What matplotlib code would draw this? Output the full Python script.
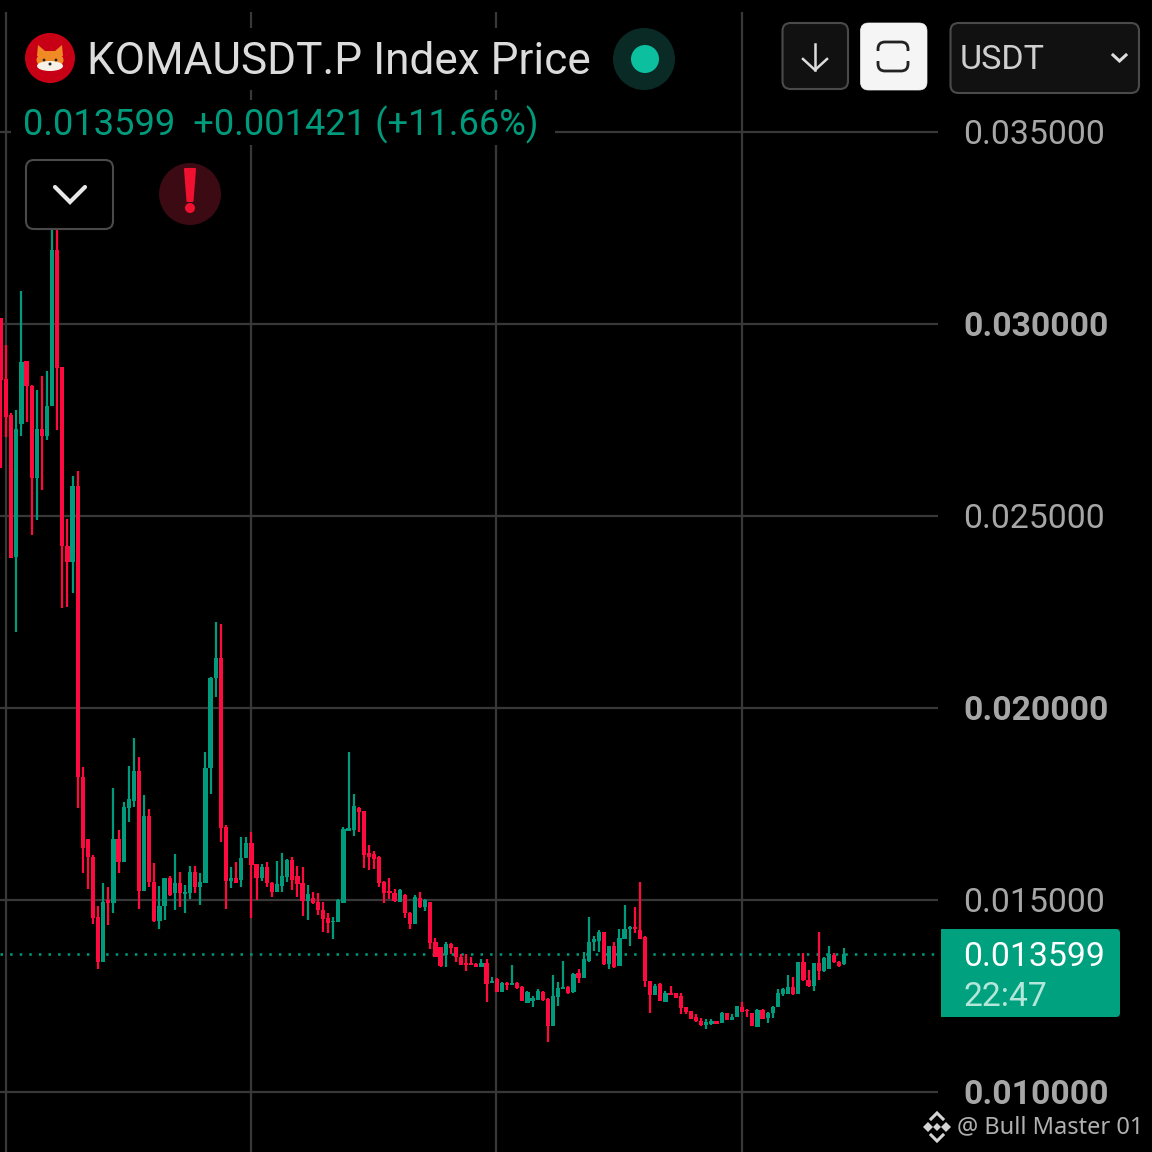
import matplotlib
matplotlib.use('Agg')
import matplotlib.pyplot as plt
from matplotlib.patches import Circle, FancyBboxPatch, Rectangle, Polygon, Ellipse

plt.rcParams['font.family'] = ['Roboto', 'DejaVu Sans']

# candle values
opens = [.03016,.02857,.02763,.02393,.0274,.02904,.02839,.02599,.02727,.02708,.02786,.03193,.02888,.02422,.0238,.02578,
         .0182,.01659,.01612,.01456,.01339,.015,.01492,.01659,.01599,.0174,.01758,.01836,.01523,.01719,.01547,.01445,
         .01484,.01557,.01518,.01544,.01516,.01518,.01573,.01534,.01544,.01844,.02078,.0213,.0169,.0155,.01557,.01552,
         .01609,.01648,.01594,.01557,.01586,.01544,.01521,.01537,.0156,.01604,.01563,.01544,.01497,.01505,.01495,.01474,
         .01453,.01443,.01443,.01492,.0168,.01682,.0174,.01732,.01622,.0162,.01612,.01547,.01523,.01518,.01495,.01513,
         .01466,.01438,.01505,.01482,.01495,.01391,.01378,.01357,.01385,.01378,.01352,.01336,.01336,.01333,.01326,.01336,
         .01284,.01294,.0126,.01284,.01279,.01284,.01273,.01232,.01237,.0124,.0126,.01242,.01172,.01247,.01268,.01273,
         .0126,.0131,.01297,.01341,.01391,.01393,.01417,.01333,.0138,.01328,.01398,.01425,.0143,.01422,.01404,.01289,
         .01253,.01281,.01234,.01258,.01258,.0125,.01221,.01211,.01195,.01185,.01174,.01177,.01185,.0118,.01206,.01188,
         .01195,.01221,.01214,.01206,.01169,.01214,.01193,.01206,.01221,.01255,.01255,.01273,.01255,.01339,.01292,.01276,
         .01336,.01315,.0132,.01357,.01339,.01333]
highs = [.03016,.02945,.02768,.02776,.03086,.02904,.02841,.02828,.02865,.02878,.03271,.03255,.02888,.02492,.02604,.02617,
         .01846,.01659,.01617,.01484,.01544,.01534,.01792,.01682,.01755,.01849,.01922,.01872,.01773,.01737,.01596,.01537,
         .01557,.01563,.0162,.01573,.01539,.01589,.01589,.0157,.01885,.02081,.02224,.02219,.01695,.01586,.01599,.01664,
         .01664,.01677,.01594,.01594,.01599,.01547,.01602,.01622,.01607,.01612,.01589,.01586,.01539,.01521,.01518,.01495,
         .01466,.01456,.01503,.0169,.01885,.01776,.01742,.01732,.01643,.01628,.01615,.0155,.01557,.01529,.01529,.01516,
         .01469,.01513,.01521,.01503,.01495,.01401,.01378,.01391,.01388,.01378,.01359,.01359,.01352,.01336,.01346,.01346,
         .013,.01297,.01287,.01287,.01331,.01287,.01276,.01263,.0125,.01268,.01263,.01245,.01305,.01287,.01341,.01276,
         .0131,.0132,.01365,.01456,.01406,.01422,.01417,.0138,.01391,.01425,.01487,.01432,.01482,.01547,.01406,.01289,
         .01281,.01284,.01263,.01276,.01258,.01258,.01221,.01211,.01203,.01193,.0119,.0119,.01185,.01208,.01206,.01203,
         .01224,.01234,.01216,.01206,.01216,.01216,.01208,.01224,.01268,.01271,.01305,.013,.01339,.01362,.01318,.01336,
         .01417,.01352,.0138,.01362,.01341,.01375]
lows = [.02625,.02706,.02391,.02198,.02708,.02745,.02451,.0249,.02568,.02698,.02786,.02724,.0226,.02263,.02299,.0174,
        .0157,.01529,.01438,.0132,.01339,.01435,.01466,.0157,.01599,.01703,.01742,.01477,.01523,.01534,.01443,.01425,
        .01448,.0151,.01474,.01482,.01466,.01503,.01518,.01487,.01544,.01776,.02029,.01651,.01477,.01531,.01544,.01534,
        .01609,.01453,.015,.0155,.01534,.01508,.01521,.01521,.01547,.01526,.01508,.01458,.01448,.0149,.01461,.01417,
        .01414,.01398,.01443,.01492,.0168,.01667,.01677,.01583,.01578,.01581,.01534,.01492,.01503,.01495,.01495,.01453,
        .01425,.01438,.01479,.01471,.01372,.01352,.01326,.01326,.01359,.01339,.01331,.01315,.01331,.01326,.01326,.01234,
        .01284,.0126,.0126,.01266,.01279,.01268,.01237,.01232,.01221,.0124,.01237,.0113,.01172,.01224,.01268,.01255,
        .01258,.01284,.01297,.01339,.01367,.01365,.01331,.0132,.01323,.01328,.01398,.0138,.01414,.01398,.01273,.01206,
        .01253,.01237,.01234,.01253,.01245,.01203,.01203,.0119,.01182,.01172,.01164,.01174,.01177,.0118,.01188,.01188,
        .01195,.01208,.01195,.01172,.01169,.0119,.0118,.01193,.01221,.0125,.01255,.01253,.01255,.01289,.01273,.01263,
        .01292,.01313,.0132,.01336,.01326,.01331]
closes = [.02854,.02758,.02391,.02727,.02901,.02839,.02599,.02727,.02708,.02786,.03193,.02885,.02422,.0238,.02578,.0182,
          .01635,.01612,.01453,.01339,.01495,.01492,.01659,.01599,.01742,.01763,.01836,.01523,.01719,.01547,.01445,.01484,
          .01557,.01513,.01544,.01518,.01521,.01573,.01534,.01547,.01844,.02078,.0213,.01688,.0155,.01557,.01544,.01609,
          .01648,.01591,.01557,.01586,.01544,.01521,.01542,.01563,.01604,.01552,.01542,.01497,.01516,.01492,.01474,.01451,
          .0144,.01445,.015,.01685,.01688,.01745,.01729,.01617,.01612,.01607,.01544,.01518,.01518,.01497,.01526,.01466,
          .01438,.01508,.01482,.015,.01388,.01352,.01328,.01385,.01375,.01352,.01331,.01331,.01331,.01326,.01336,.01281,
          .01289,.0126,.01284,.01279,.01284,.01271,.01237,.0126,.01245,.01263,.0124,.01172,.0125,.01271,.01273,.01258,
          .01307,.01297,.01346,.01391,.01398,.01417,.01333,.0138,.01326,.01401,.01425,.0143,.01425,.01398,.01289,.01253,
          .01276,.01237,.01258,.01253,.01245,.01219,.01208,.0119,.01185,.01174,.01182,.01185,.01177,.01206,.01188,.01195,
          .01224,.01208,.01211,.01172,.01214,.0119,.01206,.01221,.01258,.01268,.01273,.01255,.01339,.01292,.01276,.01336,
          .01315,.01349,.01359,.01339,.01328,.013599]

price_ticks = [0.035, 0.030, 0.025, 0.020, 0.015, 0.010]
bold_ticks = [0.030, 0.020, 0.010]
time_grid = [1, 49, 96.9, 145]
last_price = 0.013599

GREEN = '#009b7d'
RED = '#ff0a3e'
GRID = '#383838'
TICK = '#a6a6a6'

fig = plt.figure(figsize=(11.52, 11.52), dpi=100, facecolor='black')

# price chart fills the whole picture, the y limits put the ticks where the app has them
ax = fig.add_axes([0, 0, 1, 1], facecolor='black')
ax.set_xlim(-0.196, 225.2)
ax.set_ylim(0.0084375, 0.0384375)
ax.axis('off')

for p in price_ticks:
    ax.plot([-0.196, 183.3], [p, p], color=GRID, lw=1.6, zorder=1, solid_capstyle='butt')
for t in time_grid:
    ax.plot([t, t], [0.0084375, 0.03813], color=GRID, lw=1.6, zorder=1, solid_capstyle='butt')
ax.plot([-0.196, 183.3], [last_price, last_price], color=GREEN, lw=1.8, ls=(0, (1.0, 2.84)), zorder=1)

for i in range(len(opens)):
    col = RED if closes[i] < opens[i] else GREEN
    ax.plot([i, i], [lows[i], highs[i]], color=col, lw=1.6, zorder=2, solid_capstyle='butt')
    body_lo = min(opens[i], closes[i])
    ax.bar(i, abs(closes[i] - opens[i]), bottom=body_lo, width=0.84, color=col, lw=0, zorder=3)

# app controls on top, in picture pixels
ui = fig.add_axes([0, 0, 1, 1], facecolor='none')
ui.set_xlim(0, 1152)
ui.set_ylim(1152, 0)
ui.axis('off')

# text backgrounds hide the grid
ui.add_patch(Rectangle((11, 100), 544, 45, fc='black', ec='none'))
ui.add_patch(Rectangle((20, 28), 660, 62, fc='black', ec='none'))
ui.add_patch(Rectangle((938, 0), 214, 1152, fc='black', ec='none'))


def box(x0, y0, x1, y1, fc, ec, r=8, lw=1.5):
    ui.add_patch(FancyBboxPatch((x0 + r, y0 + r), x1 - x0 - 2 * r, y1 - y0 - 2 * r,
                                boxstyle='round,pad=%d,rounding_size=%d' % (r, r), fc=fc, ec=ec, lw=lw))


# fox logo
ui.add_patch(Circle((50, 58), 25, fc='#c70016', ec='none'))
ui.add_patch(Polygon([(37, 56), (38, 45), (45, 51), (55, 51), (62, 45), (63, 56)], fc='#f08a24', ec='none'))
ui.add_patch(Ellipse((50, 60), 27, 17, fc='#f08a24', ec='none'))
ui.add_patch(Ellipse((50, 66), 26, 10, fc='#f7f2e8', ec='none'))
ui.add_patch(Circle((44, 60), 1.4, fc='#222222', ec='none'))
ui.add_patch(Circle((56, 60), 1.4, fc='#222222', ec='none'))
ui.add_patch(Circle((50, 64), 1.5, fc='#222222', ec='none'))

ui.text(87, 62, 'KOMAUSDT.P Index Price', color='#dcdcdc', fontsize=31.8, va='center', ha='left')
ui.add_patch(Circle((644, 59), 31, fc='#0a2a26', ec='none'))
ui.add_patch(Circle((645, 59), 14, fc='#0cbf9f', ec='none'))

ui.text(23, 125, '0.013599  +0.001421 (+11.66%)', color='#009b7d', fontsize=26.1, va='center', ha='left')

# collapse button and warning
box(26, 160, 113, 229, 'black', '#4a4a4a')
ui.plot([55, 70, 85], [187, 202, 187], color='#e8e8e8', lw=3, solid_capstyle='round', solid_joinstyle='miter')
ui.add_patch(Circle((190, 194), 31, fc='#3b0a12', ec='none'))
ui.add_patch(Polygon([(185, 169), (195, 169), (192.5, 201), (187.5, 201)], fc='#f0102f', ec='#f0102f', lw=1.5,
                     joinstyle='round'))
ui.add_patch(Circle((190, 208), 5, fc='#f0102f', ec='none'))

# top right buttons
box(782.5, 23, 848, 89, '#111111', '#4a4a4a')
ui.plot([815, 815], [44, 70], color='#dddddd', lw=1.8)
ui.plot([803, 815, 827], [59, 70, 59], color='#dddddd', lw=1.8, solid_joinstyle='miter')
box(860.5, 23, 927, 90, '#f5f5f5', '#f5f5f5', lw=0.5)
box(878, 42, 908, 71, 'none', '#222222', r=7, lw=2.0)
ui.add_patch(Rectangle((874, 51), 38, 10, fc='#f5f5f5', ec='none'))
box(950.5, 23, 1139, 93, '#111111', '#4a4a4a')
ui.text(960, 60, 'USDT', color='#cfcfcf', fontsize=24.5, va='center', ha='left')
ui.plot([1113, 1119.5, 1126], [55, 61, 55], color='#dddddd', lw=2.2, solid_joinstyle='miter')

# price axis labels
for p in price_ticks:
    y = 1092 - (p - 0.010) * 38400
    bold = p in bold_ticks
    ui.text(963.5, y + 2.5, '%.6f' % p, color=TICK, fontsize=24.3, va='center', ha='left',
            fontweight='bold' if bold else 'normal')

# last price tag
ui.add_patch(FancyBboxPatch((945, 933), 171, 80, boxstyle='round,pad=4,rounding_size=4', fc='#00a17f', ec='none'))
ui.add_patch(Rectangle((941, 929), 10, 88, fc='#00a17f', ec='none'))
ui.text(963.5, 956.5, '0.013599', color='white', fontsize=24.3, va='center', ha='left')
ui.text(963.5, 996.5, '22:47', color='#b5e6da', fontsize=24.3, va='center', ha='left')

# watermark
for pts in [[(923, 1127), (928, 1122), (933, 1127), (928, 1132)],
            [(941, 1127), (946, 1122), (951, 1127), (946, 1132)],
            [(933, 1127), (937, 1123), (941, 1127), (937, 1131)]]:
    ui.add_patch(Polygon(pts, fc='#d4d4d4', ec='none'))
ui.plot([931, 937, 943], [1119, 1113, 1119], color='#d4d4d4', lw=2.2, solid_joinstyle='miter')
ui.plot([931, 937, 943], [1135, 1141, 1135], color='#d4d4d4', lw=2.2, solid_joinstyle='miter')
ui.text(957, 1127, '@ Bull Master 01', color='#b0b0b0', fontsize=17, family=['Noto Sans', 'DejaVu Sans'],
        va='center', ha='left')

plt.savefig('out.png', dpi=100, facecolor='black')
